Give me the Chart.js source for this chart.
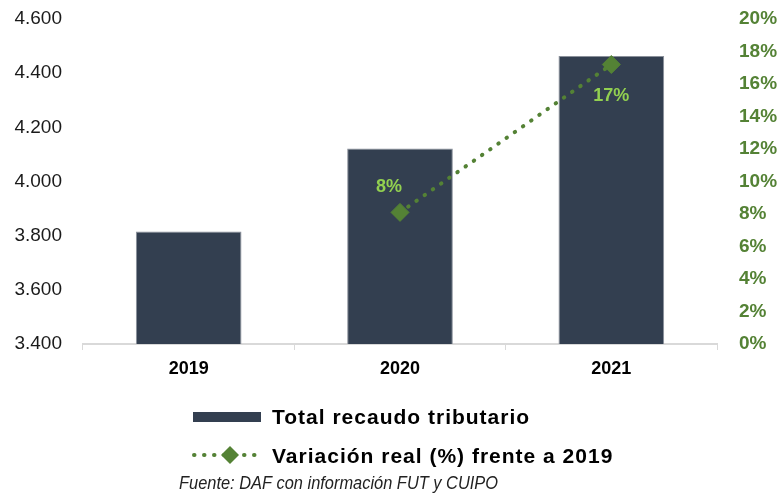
<!DOCTYPE html>
<html>
<head>
<meta charset="utf-8">
<script src="https://cdn.jsdelivr.net/npm/chart.js@4"></script>
<style>
  html, body { margin: 0; padding: 0; background: #fff; }
  #wrap { width: 780px; height: 501px; }
</style>
</head>
<body>
<div id="wrap"><canvas id="recaudoChart" width="780" height="501"></canvas></div>
<script>
// datos
const years = ['2019', '2020', '2021'];
const recaudo = [3815, 4122, 4463];
const variacion = [null, 8.1, 17.2];
const variacionLabels = ['', '8%', '17%'];
const legendNames = ['Total recaudo tributario', 'Variación real (%) frente a 2019'];
const sourceText = 'Fuente: DAF con información FUT y CUIPO';

const barColor = '#333f50';
const lineColor = '#548235';
const labelGreen = '#92d050';
const FONT = "'Liberation Sans', Arial, sans-serif";

function miles(v) {
  return v.toString().replace(/\B(?=(\d{3})+(?!\d))/g, '.');
}

// etiquetas de la línea
const lineLabels = {
  id: 'lineLabels',
  afterDatasetsDraw(chart) {
    const ctx = chart.ctx;
    const meta = chart.getDatasetMeta(1);
    const offs = [[0, 0], [-11, -25], [0, 32]];
    ctx.save();
    ctx.font = 'bold 18px ' + FONT;
    ctx.fillStyle = labelGreen;
    ctx.textAlign = 'center';
    ctx.textBaseline = 'middle';
    meta.data.forEach((pt, i) => {
      if (variacion[i] == null) return;
      ctx.fillText(variacionLabels[i], pt.x + offs[i][0], pt.y + offs[i][1]);
    });
    ctx.restore();
  }
};

// leyenda y fuente abajo
const bottomLegend = {
  id: 'bottomLegend',
  afterDraw(chart) {
    const ctx = chart.ctx;
    ctx.save();
    ctx.fillStyle = barColor;
    ctx.fillRect(193, 412, 68, 10);

    ctx.strokeStyle = lineColor;
    ctx.lineWidth = 4;
    ctx.lineCap = 'round';
    ctx.setLineDash([0.5, 9.5]);
    ctx.beginPath();
    ctx.moveTo(194, 455);
    ctx.lineTo(258, 455);
    ctx.stroke();
    ctx.setLineDash([]);
    ctx.fillStyle = lineColor;
    ctx.beginPath();
    ctx.moveTo(221, 455); ctx.lineTo(230, 446); ctx.lineTo(239, 455); ctx.lineTo(230, 464);
    ctx.closePath();
    ctx.fill();

    ctx.fillStyle = '#000';
    ctx.font = 'bold 21px ' + FONT;
    ctx.letterSpacing = '1px';
    ctx.textAlign = 'left';
    ctx.textBaseline = 'middle';
    ctx.fillText(legendNames[0], 272, 418);
    ctx.fillText(legendNames[1], 272, 457);
    ctx.letterSpacing = '0px';

    // fuente condensada
    ctx.font = 'italic 19px ' + FONT;
    ctx.fillStyle = '#222';
    const w = ctx.measureText(sourceText).width;
    ctx.translate(179, 484);
    ctx.scale(319 / w, 1);
    ctx.fillText(sourceText, 0, 0);
    ctx.restore();
  }
};

// sin espacio extra arriba/abajo de los ejes verticales
function fitVertical(width) {
  return function (s) {
    s.width = width;
    s.paddingTop = 8;
    s.paddingBottom = 8;
  };
}

const ctx = document.getElementById('recaudoChart').getContext('2d');
new Chart(ctx, {
  type: 'bar',
  data: {
    labels: years,
    datasets: [{
      type: 'bar',
      label: legendNames[0],
      data: recaudo,
      backgroundColor: barColor,
      borderColor: '#8a909a',
      borderWidth: 1,
      categoryPercentage: 1,
      barPercentage: 0.5,
      yAxisID: 'y',
      order: 2
    }, {
      type: 'line',
      label: legendNames[1],
      data: variacion,
      borderColor: lineColor,
      borderWidth: 4,
      borderDash: [0.5, 9.5],
      borderCapStyle: 'round',
      pointStyle: 'rectRot',
      pointRadius: 9,
      pointBackgroundColor: lineColor,
      pointBorderColor: lineColor,
      pointBorderWidth: 1,
      spanGaps: false,
      yAxisID: 'y2',
      order: 1
    }]
  },
  options: {
    responsive: false,
    animation: false,
    layout: { padding: { top: 19, bottom: 0, left: 0, right: 0 } },
    plugins: {
      legend: { display: false },
      tooltip: { enabled: false }
    },
    scales: {
      x: {
        grid: { drawOnChartArea: false, drawTicks: true, tickLength: 6, color: '#d9d9d9', offset: true },
        border: { color: '#d9d9d9', width: 2 },
        ticks: { color: '#000', font: { family: FONT, size: 18, weight: 'bold' }, padding: 8 },
        afterFit(s) { s.height = 157; }
      },
      y: {
        position: 'left',
        min: 3400,
        max: 4600,
        grid: { display: false, drawTicks: false },
        border: { display: false },
        ticks: {
          stepSize: 200,
          color: '#1a1a1a',
          padding: 21,
          font: { family: FONT, size: 19 },
          callback: v => miles(v)
        },
        afterFit: fitVertical(83)
      },
      y2: {
        position: 'right',
        min: 0,
        max: 20,
        grid: { display: false, drawTicks: false },
        border: { display: false },
        ticks: {
          stepSize: 2,
          color: lineColor,
          padding: 22,
          font: { family: FONT, size: 19, weight: 'bold' },
          callback: v => v + '%'
        },
        afterFit: fitVertical(63)
      }
    }
  },
  plugins: [lineLabels, bottomLegend]
});
</script>
</body>
</html>
